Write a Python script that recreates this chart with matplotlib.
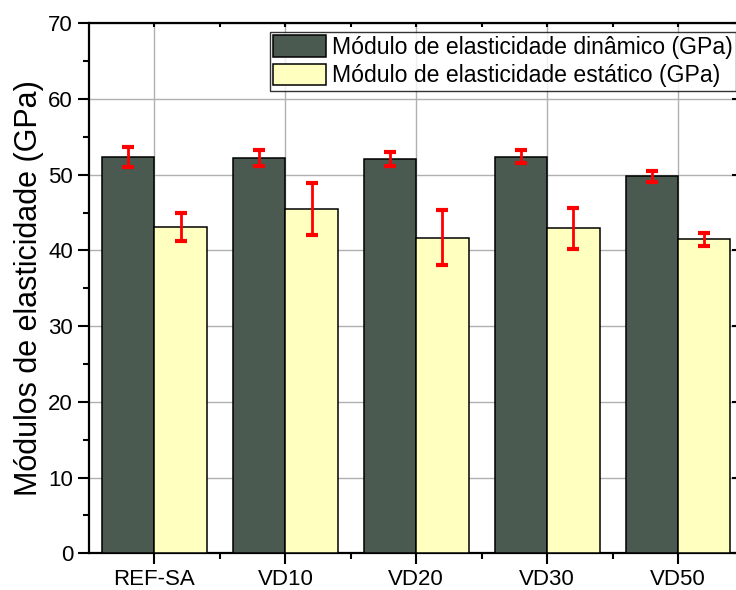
import matplotlib
matplotlib.use("Agg")
import matplotlib.pyplot as plt
import numpy as np
from matplotlib.ticker import MultipleLocator, FixedLocator

plt.rcParams['font.family'] = ['Liberation Sans', 'DejaVu Sans']

categories = ["REF-SA", "VD10", "VD20", "VD30", "VD50"]
dinamico = [52.3, 52.2, 52.1, 52.4, 49.8]
dinamico_err = [1.3, 1.0, 0.9, 0.9, 0.7]
estatico = [43.1, 45.5, 41.7, 42.9, 41.5]
estatico_err = [1.85, 3.4, 3.6, 2.7, 0.85]
series_labels = ["Módulo de elasticidade dinâmico (GPa)",
                 "Módulo de elasticidade estático (GPa)"]

fig = plt.figure(figsize=(7.36, 5.90), dpi=100)
ax = fig.add_axes([89 / 736, 1 - 553.3 / 590, (743.5 - 89) / 736, (553.3 - 23.3) / 590])

x = np.arange(len(categories))
w = 0.4
err_kw = dict(ecolor="#ff0000", elinewidth=2.0, capsize=4, capthick=3.0)
ax.bar(x - w / 2, dinamico, w, color="#4b5a50", edgecolor="black", linewidth=1.1,
       yerr=dinamico_err, error_kw=err_kw, label=series_labels[0], zorder=3)
ax.bar(x + w / 2, estatico, w, color="#ffffc0", edgecolor="black", linewidth=1.1,
       yerr=estatico_err, error_kw=err_kw, label=series_labels[1], zorder=3)

ax.set_xlim(-0.5, 4.5)
ax.set_ylim(0, 70)
ax.set_xticks(x)
ax.set_xticklabels(categories)
ax.xaxis.set_minor_locator(FixedLocator(x[:-1] + 0.5))
ax.yaxis.set_major_locator(MultipleLocator(10))
ax.yaxis.set_minor_locator(MultipleLocator(5))

ax.grid(True, which="major", color="#b0b0b0", linewidth=1.0, zorder=0)
ax.set_axisbelow(True)

for s in ax.spines.values():
    s.set_linewidth(1.6)

ax.tick_params(axis="both", which="major", labelsize=16, width=1.5, length=8,
               direction="out", top=False, right=False)
ax.tick_params(axis="both", which="minor", width=1.5, length=4, direction="out",
               top=False, right=False)

# inward ticks on the top and right spines
top = ax.twiny()
top.set_xlim(ax.get_xlim())
top.set_xticks(list(x) + list(x[:-1] + 0.5))
top.tick_params(direction="in", length=3, width=1.5, labeltop=False)
right = ax.twinx()
right.set_ylim(ax.get_ylim())
right.yaxis.set_major_locator(MultipleLocator(10))
right.yaxis.set_minor_locator(MultipleLocator(5))
right.tick_params(which="major", direction="in", length=8, width=1.5, labelright=False)
right.tick_params(which="minor", direction="in", length=4, width=1.5)
for t in (top, right):
    for s in t.spines.values():
        s.set_visible(False)

ax.set_ylabel("Módulos de elasticidade (GPa)", fontsize=22, labelpad=3)

leg = ax.legend(loc="upper left", bbox_to_anchor=(270 / 736, 1 - 32 / 590),
                bbox_transform=fig.transFigure, fontsize=16.6, frameon=True,
                fancybox=False, borderpad=0.15, borderaxespad=0,
                handlelength=2.3, handleheight=1.05, handletextpad=0.25,
                labelspacing=0.2)
leg.get_frame().set_edgecolor("black")
leg.get_frame().set_linewidth(1.0)
leg.set_zorder(10)

fig.savefig("out.png", dpi=100)
